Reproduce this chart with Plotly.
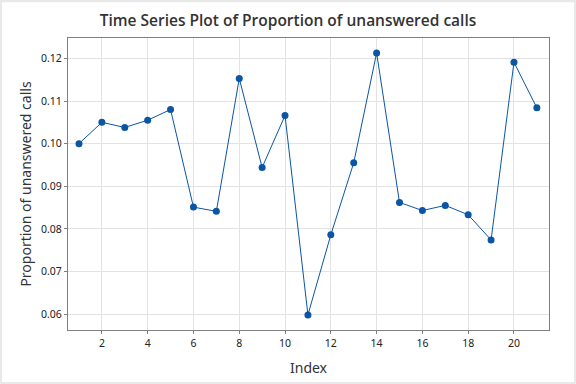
import plotly.graph_objects as go

index = list(range(1, 22))
proportion = [0.1000, 0.1050, 0.1038, 0.1055, 0.1080, 0.0851, 0.0841, 0.1153,
              0.0944, 0.1066, 0.0598, 0.0786, 0.0955, 0.1213, 0.0862, 0.0843,
              0.0855, 0.0833, 0.0774, 0.1191, 0.1084]
x_ticks = [2, 4, 6, 8, 10, 12, 14, 16, 18, 20]
y_ticks = [0.06, 0.07, 0.08, 0.09, 0.10, 0.11, 0.12]
y_labels = ["0.06", "0.07", "0.08", "0.09", "0.10", "0.11", "0.12"]

blue = "#0B55A5"
font_family = "Noto Sans, Open Sans, sans-serif"

fig = go.Figure()
fig.add_trace(go.Scatter(
    x=index, y=proportion, mode="lines+markers",
    line=dict(color=blue, width=1),
    marker=dict(color=blue, size=7, symbol="circle"),
    showlegend=False,
))

axis_common = dict(
    showline=True, linecolor="#7f7f7f", linewidth=1, mirror=True,
    ticks="outside", ticklen=3, tickcolor="#7f7f7f",
    showgrid=True, gridcolor="#e3e3e3", gridwidth=1,
    zeroline=False,
    tickfont=dict(family=font_family, size=10.5, color="#222222"),
)

fig.update_layout(
    width=576, height=384,
    margin=dict(l=68, r=27, t=38, b=54),
    paper_bgcolor="#e9e9e9",
    plot_bgcolor="white",
    title=dict(
        text="Time Series Plot of Proportion of unanswered calls",
        x=0.5, xanchor="center", xref="container",
        y=1 - 21 / 384, yanchor="middle",
        font=dict(family="Open Sans, Noto Sans, sans-serif", size=15.5, color="#333333", weight=600),
    ),
    xaxis=dict(
        **axis_common,
        range=[0.52, 21.53],
        tickvals=x_ticks,
        title=dict(text="Index", font=dict(family=font_family, size=14, color="#333333"), standoff=14),
    ),
    yaxis=dict(
        **axis_common,
        range=[0.05625, 0.1248],
        tickvals=y_ticks, ticktext=y_labels,
        title=dict(text="Proportion of unanswered calls",
                   font=dict(family=font_family, size=14, color="#333333"), standoff=6),
    ),
    shapes=[dict(
        type="rect", xref="paper", yref="paper",
        x0=(2 - 68) / 481, x1=(574 - 68) / 481,
        y0=(330 - 382) / 292.3, y1=(330 - 2) / 292.3,
        fillcolor="white", line=dict(width=0), layer="below",
    )],
)

fig.write_html("out.html", config={"displayModeBar": False},
               post_script="document.body.style.margin='0';")
